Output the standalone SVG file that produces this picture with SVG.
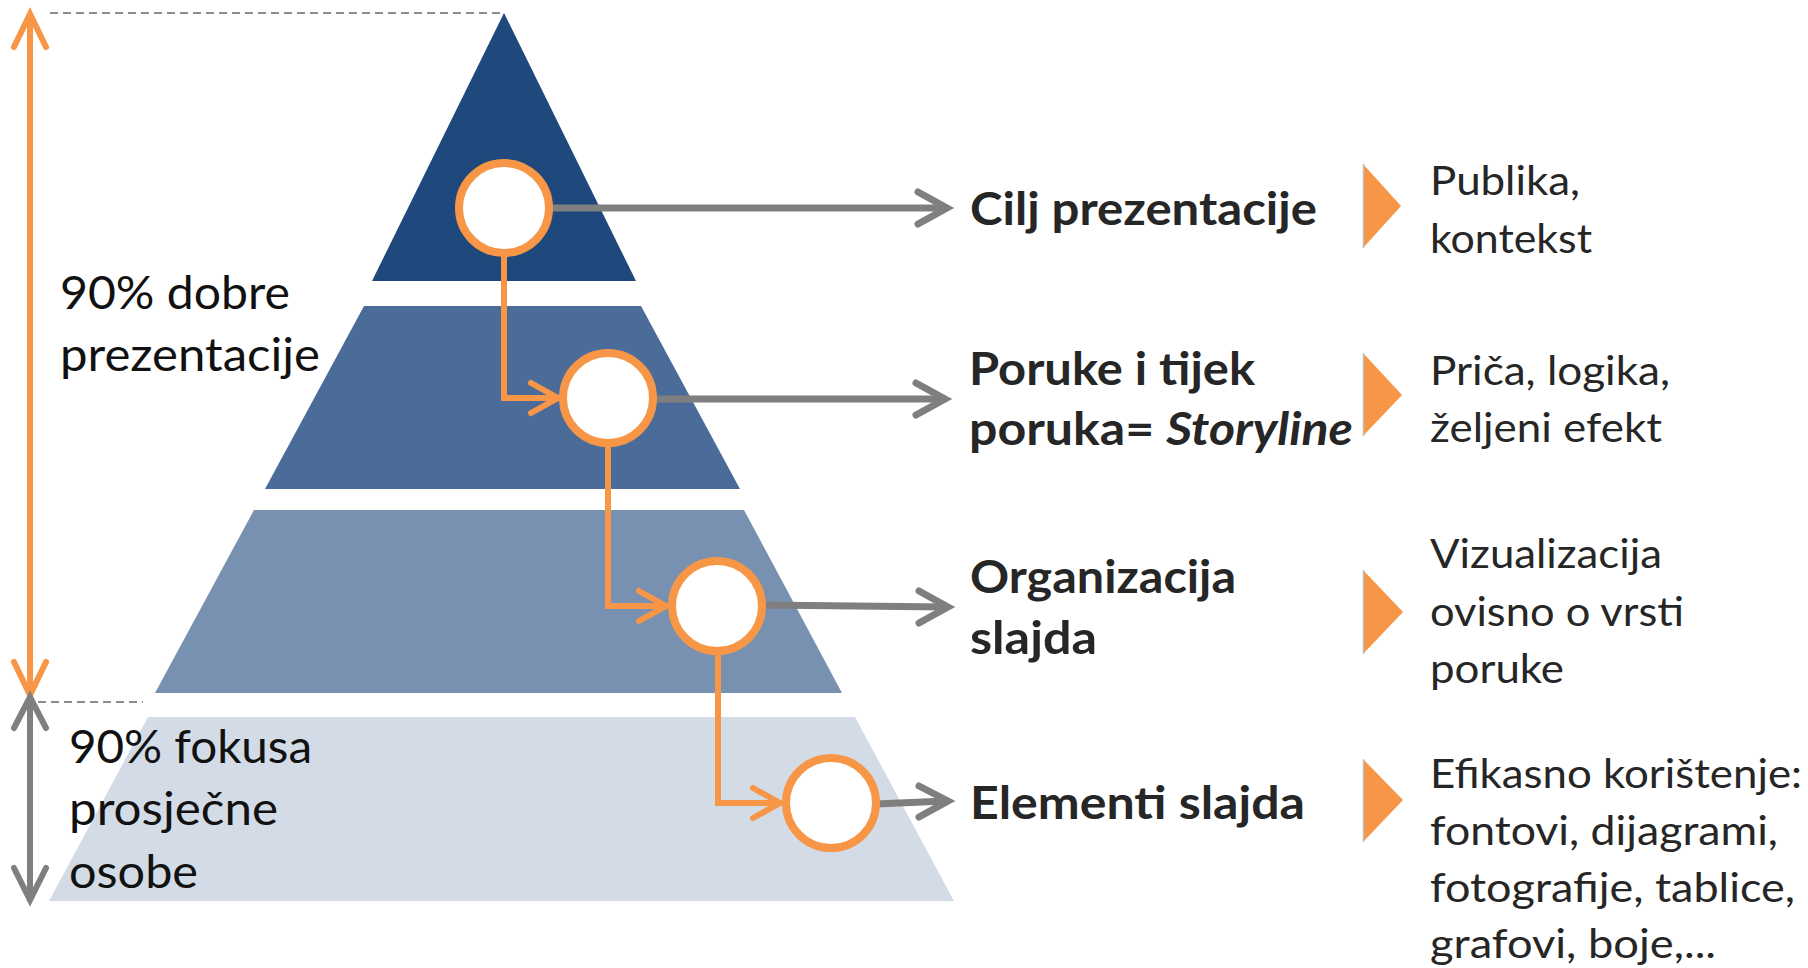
<svg xmlns="http://www.w3.org/2000/svg" width="1808" height="968" viewBox="0 0 1808 968">
<style>
.ring{fill:#fff;stroke:#F79646;stroke-width:8}
.oc{fill:none;stroke:#F79646;stroke-width:6;stroke-linecap:round;stroke-linejoin:miter}
.gc{fill:none;stroke:#7F7F7F;stroke-width:7;stroke-linecap:round;stroke-linejoin:miter}
.gl{fill:none;stroke:#7F7F7F;stroke-width:6;stroke-linecap:round;stroke-linejoin:miter}
.dash{fill:none;stroke:#8C8C8C;stroke-width:1.8;stroke-dasharray:8 5}
.tri{fill:#F79646}
.tri-edge{fill:none;stroke:#BDBDBD;stroke-width:1.5}
.lt{font-family:Lato,"Open Sans",sans-serif;font-size:46px;fill:#111}
.bl{font-family:Lato,"Open Sans",sans-serif;font-size:46px;font-weight:bold;fill:#262626}
.rt{font-family:Lato,"Open Sans",sans-serif;font-size:41px;fill:#262626}
</style>
<rect width="1808" height="968" fill="#fff"/>

<g id="guides">
<path class="dash" d="M50,13 H504"/>
<path class="dash" d="M38,702 H143"/>
</g>

<g id="level1"><polygon points="504,13 636,281 372,281" fill="#1F497D"/></g>
<g id="level2"><polygon points="364,306 641,306 740,489 265,489" fill="#4B6B99"/></g>
<g id="level3"><polygon points="254,510 744,510 842,693 155,693" fill="#7891B1"/></g>
<g id="level4"><polygon points="148,717 855,717 954,901 49,901" fill="#D3DBE6"/></g>

<g id="connectors">
<path class="oc" d="M504,253 V398 H556"/>
<path class="oc" d="M531,383 L558,398 L531,413"/>
<path class="oc" d="M608,443 V606 H665"/>
<path class="oc" d="M639,591 L666,606 L639,621"/>
<path class="oc" d="M718,651 V803 H779"/>
<path class="oc" d="M753,788 L780,803 L753,818"/>
<path class="gc" d="M549,208 H945"/>
<path class="gc" d="M918,192 L947,208 L918,224"/>
<path class="gc" d="M653,399 H944"/>
<path class="gc" d="M916,383 L945,399 L916,415"/>
<path class="gc" d="M762,605 L946,607"/>
<path class="gc" d="M919,591 L948,607 L919,623"/>
<path class="gc" d="M876,804 L946,801"/>
<path class="gc" d="M919,786 L948,801 L919,817"/>
<path class="oc" d="M30,15 V692"/>
<path class="oc" d="M14,47 L30,14 L46,47"/>
<path class="oc" d="M14,662 L30,695 L46,662"/>
<path class="gl" d="M30,699 V898"/>
<path class="gl" d="M14,728 L30,697 L46,728"/>
<path class="gl" d="M14,868 L30,900 L46,868"/>
</g>

<g id="node1"><circle class="ring" cx="504" cy="208" r="45"/></g>
<g id="node2"><circle class="ring" cx="608" cy="398" r="45"/></g>
<g id="node3"><circle class="ring" cx="717" cy="606" r="45"/></g>
<g id="node4"><circle class="ring" cx="831" cy="803" r="45"/></g>

<g id="left-top-label">
<text class="lt" x="60" y="309" textLength="230" lengthAdjust="spacingAndGlyphs">90% dobre</text>
<text class="lt" x="60" y="371" textLength="260" lengthAdjust="spacingAndGlyphs">prezentacije</text>
</g>
<g id="left-bottom-label">
<text class="lt" x="69" y="763" textLength="243" lengthAdjust="spacingAndGlyphs">90% fokusa</text>
<text class="lt" x="69" y="825" textLength="209" lengthAdjust="spacingAndGlyphs">prosječne</text>
<text class="lt" x="69" y="888" textLength="129" lengthAdjust="spacingAndGlyphs">osobe</text>
</g>

<g id="label1"><text class="bl" x="970" y="225" textLength="347" lengthAdjust="spacingAndGlyphs">Cilj prezentacije</text></g>
<g id="label2">
<text class="bl" x="969" y="385" textLength="286" lengthAdjust="spacingAndGlyphs">Poruke i tijek</text>
<text class="bl" x="969" y="445" textLength="384" lengthAdjust="spacingAndGlyphs">poruka= <tspan font-style="italic">Storyline</tspan></text>
</g>
<g id="label3">
<text class="bl" x="970" y="593" textLength="266" lengthAdjust="spacingAndGlyphs">Organizacija</text>
<text class="bl" x="970" y="654" textLength="127" lengthAdjust="spacingAndGlyphs">slajda</text>
</g>
<g id="label4"><text class="bl" x="970" y="819" textLength="335" lengthAdjust="spacingAndGlyphs">Elementi slajda</text></g>

<g id="bullet1"><polygon class="tri" points="1363,164 1401,206 1363,248"/><path class="tri-edge" d="M1363.5,164 V248"/></g>
<g id="bullet2"><polygon class="tri" points="1363,353 1402,395 1363,436"/><path class="tri-edge" d="M1363.5,353 V436"/></g>
<g id="bullet3"><polygon class="tri" points="1363,570 1403,612 1363,654"/><path class="tri-edge" d="M1363.5,570 V654"/></g>
<g id="bullet4"><polygon class="tri" points="1363,759 1403,800 1363,842"/><path class="tri-edge" d="M1363.5,759 V842"/></g>

<g id="desc1">
<text class="rt" x="1430" y="195" textLength="150" lengthAdjust="spacingAndGlyphs">Publika,</text>
<text class="rt" x="1430" y="253" textLength="162" lengthAdjust="spacingAndGlyphs">kontekst</text>
</g>
<g id="desc2">
<text class="rt" x="1430" y="385" textLength="240" lengthAdjust="spacingAndGlyphs">Priča, logika,</text>
<text class="rt" x="1430" y="442" textLength="232" lengthAdjust="spacingAndGlyphs">željeni efekt</text>
</g>
<g id="desc3">
<text class="rt" x="1430" y="568" textLength="232" lengthAdjust="spacingAndGlyphs">Vizualizacija</text>
<text class="rt" x="1430" y="626" textLength="254" lengthAdjust="spacingAndGlyphs">ovisno o vrsti</text>
<text class="rt" x="1430" y="683" textLength="134" lengthAdjust="spacingAndGlyphs">poruke</text>
</g>
<g id="desc4">
<text class="rt" x="1430" y="788" textLength="372" lengthAdjust="spacingAndGlyphs">Efikasno korištenje:</text>
<text class="rt" x="1430" y="845" textLength="348" lengthAdjust="spacingAndGlyphs">fontovi, dijagrami,</text>
<text class="rt" x="1430" y="902" textLength="365" lengthAdjust="spacingAndGlyphs">fotografije, tablice,</text>
<text class="rt" x="1430" y="958" textLength="286" lengthAdjust="spacingAndGlyphs">grafovi, boje,...</text>
</g>
</svg>
